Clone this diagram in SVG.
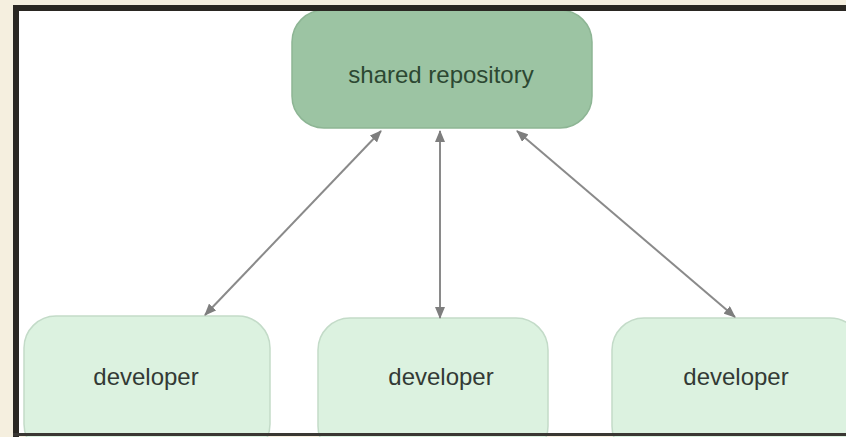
<svg xmlns="http://www.w3.org/2000/svg" width="846" height="437" viewBox="0 0 846 437">
  <style>
    .repo { fill: #9cc4a3; stroke: #8db594; stroke-width: 1.5; }
    .dev { fill: #dcf2e0; stroke: #c3dbc8; stroke-width: 1.5; }
    .lbl { font-family: "Liberation Sans", Arial, sans-serif; font-size: 24px; text-anchor: middle; }
    .repo-t { fill: #2c4832; }
    .dev-t { fill: #333a35; }
    .conn { stroke: #8a8a8a; stroke-width: 2; fill: none; marker-start: url(#ah); marker-end: url(#ah); }
  </style>
  <defs>
    <marker id="ah" viewBox="0 0 12 10" refX="11" refY="5" markerWidth="12" markerHeight="10" markerUnits="userSpaceOnUse" orient="auto-start-reverse">
      <path d="M0,0 L12,5 L0,10 z" fill="#7e7e7e"/>
    </marker>
  </defs>
  <rect x="0" y="0" width="846" height="437" fill="#f5efdf"/>
  <rect x="16" y="8" width="840" height="427" fill="#ffffff"/>

  <g id="repository">
    <rect class="repo" x="292" y="10" width="300" height="118" rx="32" ry="32"/>
    <text class="lbl repo-t" x="441" y="83">shared repository</text>
  </g>
  <g id="developer1">
    <rect class="dev" x="24" y="316" width="246" height="140" rx="32" ry="32"/>
    <text class="lbl dev-t" x="146" y="385">developer</text>
  </g>
  <g id="developer2">
    <rect class="dev" x="318" y="318" width="230" height="140" rx="32" ry="32"/>
    <text class="lbl dev-t" x="441" y="385">developer</text>
  </g>
  <g id="developer3">
    <rect class="dev" x="612" y="318" width="250" height="140" rx="32" ry="32"/>
    <text class="lbl dev-t" x="736" y="385">developer</text>
  </g>

  <g id="connectors">
    <line class="conn" x1="381" y1="131" x2="205" y2="315"/>
    <line class="conn" x1="440" y1="131" x2="440" y2="318"/>
    <line class="conn" x1="517" y1="131" x2="735" y2="317"/>
  </g>

  <g id="frame">
    <rect x="13" y="5" width="840" height="6" fill="#2a2722"/>
    <rect x="13" y="5" width="6" height="432" fill="#2a2722"/>
    <rect x="13" y="433" width="840" height="3" fill="#3a3733"/>
  </g>
</svg>
